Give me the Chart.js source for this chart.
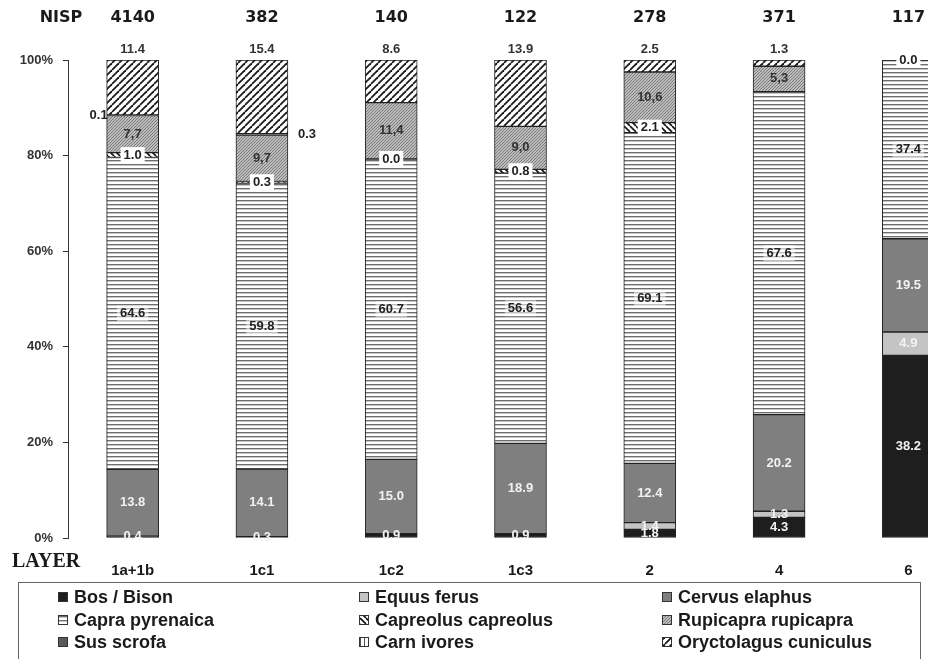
<!DOCTYPE html>
<html>
<head>
<meta charset="utf-8">
<title>NISP by layer</title>
<script src="https://cdn.jsdelivr.net/npm/chart.js@4.4.1/dist/chart.umd.min.js"></script>
<style>
  html, body { margin: 0; padding: 0; background: #fff; overflow: hidden; }
  #wrap { width: 980px; height: 659px; }
</style>
</head>
<body>
<div id="wrap"><canvas id="faunaChart" width="980" height="659"></canvas></div>
<script>
/* Taxa percentages per layer, stacked to 100% */

var layers = ['1a+1b', '1c1', '1c2', '1c3', '2', '4', '6'];
var nisp   = [4140, 382, 140, 122, 278, 371, 117];

var bosBison     = [0.4, 0.3, 0.9, 0.9, 1.8, 4.3, 38.2];
var equusFerus   = [null, null, null, null, 1.4, 1.3, 4.9];
var cervus       = [13.8, 14.1, 15.0, 18.9, 12.4, 20.2, 19.5];
var capra        = [64.6, 59.8, 60.7, 56.6, 69.1, 67.6, 37.4];
var capreolus    = [1.0, 0.3, 0.0, 0.8, 2.1, null, null];
var rupicapra    = [7.7, 9.7, 11.4, 9.0, 10.6, 5.3, null];
var susScrofa    = [0.1, 0.3, null, null, null, null, null];
var carnivores   = [null, null, null, null, null, null, null];
var oryctolagus  = [11.4, 15.4, 8.6, 13.9, 2.5, 1.3, 0.0];

var taxaNames = ['Bos / Bison', 'Equus ferus', 'Cervus elaphus', 'Capra pyrenaica',
                 'Capreolus capreolus', 'Rupicapra rupicapra', 'Sus scrofa',
                 'Carn ivores', 'Oryctolagus cuniculus'];
var taxaValues = [bosBison, equusFerus, cervus, capra, capreolus, rupicapra,
                  susScrofa, carnivores, oryctolagus];

/* ─── fill patterns ─── */

function makePattern(size, draw) {
  var c = document.createElement('canvas');
  c.width = size; c.height = size;
  var g = c.getContext('2d');
  g.fillStyle = '#fff';
  g.fillRect(0, 0, size, size);
  draw(g, size);
  return g.createPattern(c, 'repeat');
}

var hLines = makePattern(4, function(g, s) {
  g.fillStyle = '#6e6e6e'; g.fillRect(0, 0, s, 1);
  g.fillStyle = '#c6c6c6'; g.fillRect(0, 1, s, 1);
});
var vLines = makePattern(4, function(g, s) {
  g.fillStyle = '#555'; g.fillRect(0, 0, 1, s);
});
var backHatch = makePattern(6, function(g, s) {
  g.strokeStyle = '#111'; g.lineWidth = 1.6;
  [-s, 0, s].forEach(function(k) {
    g.beginPath(); g.moveTo(k, 0); g.lineTo(k + s, s); g.stroke();
  });
});
var fwdHatch = makePattern(7, function(g, s) {
  g.strokeStyle = '#1a1a1a'; g.lineWidth = 1.8;
  [-s, 0, s].forEach(function(k) {
    g.beginPath(); g.moveTo(k, s); g.lineTo(k + s, 0); g.stroke();
  });
});
var dotted = makePattern(3, function(g, s) {
  g.fillStyle = '#bcbcbc'; g.fillRect(0, 0, s, s);
  g.fillStyle = '#7c7c7c';
  g.fillRect(0, 0, 1, 1); g.fillRect(2, 1, 1, 1); g.fillRect(1, 2, 1, 1);
});

var taxaFills = ['#1e1e1e', '#c4c4c4', '#7f7f7f', hLines, backHatch, dotted,
                 '#5a5a5a', vLines, fwdHatch];
var taxaLabelKind = ['light', 'light', 'light', 'boxSoft', 'box', 'plain',
                     'side', 'plain', 'above'];

/* ─── percentages (each column normalised to its own total) ─── */

var totals = layers.map(function(_, j) {
  return taxaValues.reduce(function(sum, arr) { return sum + (arr[j] || 0); }, 0);
});

var datasets = taxaNames.map(function(name, i) {
  return {
    label: name,
    data: taxaValues[i].map(function(v, j) { return v === null ? null : v / totals[j] * 100; }),
    rawValues: taxaValues[i],
    labelKind: taxaLabelKind[i],
    backgroundColor: taxaFills[i],
    borderColor: '#222',
    borderWidth: 1,
    borderSkipped: false,
    barThickness: 52
  };
});

var LABEL_FONT = 'bold 13px "Liberation Sans", Arial, sans-serif';

function boxedText(ctx, txt, x, y, bg) {
  var w = ctx.measureText(txt).width;
  ctx.fillStyle = bg;
  ctx.fillRect(x - w / 2 - 3, y - 8, w + 6, 16);
  ctx.fillStyle = '#222';
  ctx.fillText(txt, x, y);
}

/* ─── value labels on the segments ─── */

var segmentLabels = {
  id: 'segmentLabels',
  afterDatasetsDraw: function(chart) {
    var ctx = chart.ctx;
    ctx.save();
    ctx.font = LABEL_FONT;
    ctx.textBaseline = 'middle';
    chart.data.datasets.forEach(function(ds, i) {
      var meta = chart.getDatasetMeta(i);
      meta.data.forEach(function(bar, j) {
        var v = ds.rawValues[j];
        if (v === null || v === undefined) return;
        var txt = v.toFixed(1);
        if (ds.labelKind === 'plain') txt = txt.replace('.', ',');
        var top = Math.min(bar.y, bar.base), bottom = Math.max(bar.y, bar.base);
        var cx = bar.x, cy = (top + bottom) / 2;
        ctx.textAlign = 'center';
        if (ds.labelKind === 'light') {
          ctx.fillStyle = '#f2f2f2';
          ctx.fillText(txt, cx, cy);
        } else if (ds.labelKind === 'plain') {
          ctx.fillStyle = '#333';
          ctx.fillText(txt, cx, cy);
        } else if (ds.labelKind === 'box') {
          boxedText(ctx, txt, cx, cy, '#fff');
        } else if (ds.labelKind === 'boxSoft') {
          boxedText(ctx, txt, cx, cy, 'rgba(255,255,255,0.55)');
        } else if (ds.labelKind === 'side') {
          ctx.fillStyle = '#222';
          if (j % 2 === 0) {
            ctx.textAlign = 'right';
            ctx.fillText(txt, cx - bar.width / 2 + 1, cy);
          } else {
            ctx.textAlign = 'left';
            ctx.fillText(txt, cx + bar.width / 2 + 10, cy);
          }
        } else if (ds.labelKind === 'above') {
          if (v === 0) {
            boxedText(ctx, txt, cx, top, '#fff');
          } else {
            ctx.fillStyle = '#333';
            ctx.fillText(txt, cx, top - 11);
          }
        }
      });
    });
    ctx.restore();
  }
};

/* ─── NISP row, LAYER caption and boxed legend ─── */

var extras = {
  id: 'extras',
  afterDraw: function(chart) {
    var ctx = chart.ctx;
    var xs = chart.scales.x;
    ctx.save();

    ctx.fillStyle = '#1a1a1a';
    ctx.textBaseline = 'middle';
    ctx.textAlign = 'center';
    ctx.font = 'bold 16px "DejaVu Sans", sans-serif';
    ctx.fillText('NISP', 61, 18);
    nisp.forEach(function(n, j) {
      ctx.fillText(String(n), xs.getPixelForValue(j), 18);
    });

    ctx.textAlign = 'left';
    ctx.font = 'bold 20px "Liberation Serif", "Times New Roman", serif';
    ctx.fillText('LAYER', 12, 562);

    // legend box
    ctx.strokeStyle = '#666';
    ctx.lineWidth = 1;
    ctx.strokeRect(18.5, 582.5, 902, 80);
    var colSwatch = [58, 359, 662];
    var rowY = [597, 620, 642];
    ctx.font = 'bold 18px "Liberation Sans", Arial, sans-serif';
    chart.data.datasets.forEach(function(ds, i) {
      var sx = colSwatch[i % 3], sy = rowY[Math.floor(i / 3)];
      ctx.fillStyle = ds.backgroundColor;
      ctx.fillRect(sx, sy - 5, 10, 10);
      ctx.strokeStyle = '#333';
      ctx.strokeRect(sx + 0.5, sy - 4.5, 9, 9);
      ctx.fillStyle = '#1a1a1a';
      ctx.fillText(ds.label, sx + 16, sy + 1);
    });

    ctx.restore();
  }
};

var faunaChartInst = new Chart(document.getElementById('faunaChart'), {
  type: 'bar',
  data: { labels: layers, datasets: datasets },
  options: {
    responsive: false,
    animation: false,
    layout: { padding: { top: 60, right: 7, left: 0, bottom: 0 } },
    plugins: { legend: { display: false }, tooltip: { enabled: false } },
    scales: {
      x: {
        stacked: true,
        grid: { display: false },
        border: { display: false },
        ticks: {
          color: '#1a1a1a',
          padding: 16,
          font: { family: '"Liberation Sans", Arial, sans-serif', size: 15, weight: 'bold' }
        },
        afterFit: function(s) { s.height = 121; }
      },
      y: {
        stacked: true,
        min: 0,
        max: 100,
        grid: { drawOnChartArea: false, drawTicks: true, tickLength: 5, color: '#333' },
        border: { display: true, color: '#333', width: 1 },
        ticks: {
          stepSize: 20,
          padding: 10,
          color: '#333',
          font: { family: '"Liberation Sans", Arial, sans-serif', size: 13, weight: 'bold' },
          callback: function(v) { return v + '%'; }
        },
        afterFit: function(s) { s.width = 68; }
      }
    }
  },
  plugins: [segmentLabels, extras]
});
</script>
</body>
</html>
